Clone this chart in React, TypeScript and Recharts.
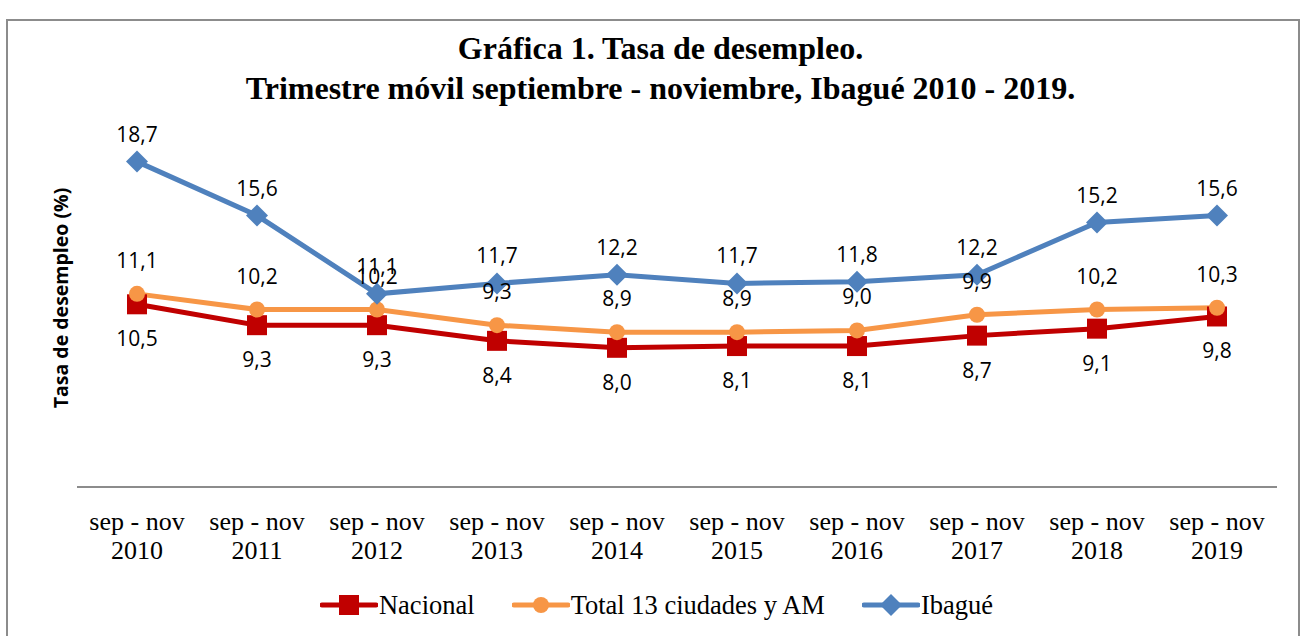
import React from "react";
import { LineChart, Line, XAxis, YAxis, LabelList } from "recharts";

const years = ["2010", "2011", "2012", "2013", "2014", "2015", "2016", "2017", "2018", "2019"];
const nacional = [10.5, 9.3, 9.3, 8.4, 8.0, 8.1, 8.1, 8.7, 9.1, 9.8];
const total13 = [11.1, 10.2, 10.2, 9.3, 8.9, 8.9, 9.0, 9.9, 10.2, 10.3];
const ibague = [18.7, 15.6, 11.1, 11.7, 12.2, 11.7, 11.8, 12.2, 15.2, 15.6];

const RED = "#C00000";
const ORANGE = "#F79646";
const BLUE = "#4F81BD";
const SERIF = "'Liberation Serif', 'Times New Roman', serif";
const SANS = "'Open Sans', 'Noto Sans', sans-serif";

const data = years.map((y, i) => ({
  year: y,
  nacional: nacional[i],
  total: total13[i],
  ibague: ibague[i],
}));

const fmt = (v: any) => Number(v).toFixed(1).replace(".", ",");

const Square = ({ cx, cy }: any) => (
  <rect x={cx - 10} y={cy - 10} width={20} height={20} fill={RED} />
);
const Dot = ({ cx, cy }: any) => <circle cx={cx} cy={cy} r={8} fill={ORANGE} />;
const Diamond = ({ cx, cy }: any) => (
  <path d={`M${cx},${cy - 11} L${cx + 11},${cy} L${cx},${cy + 11} L${cx - 11},${cy} Z`} fill={BLUE} />
);

const CategoryTick = ({ x, y, payload }: any) => (
  <text x={x} y={y} textAnchor="middle" fontFamily={SERIF} fontSize={26} fill="#000">
    <tspan x={x} dy={41}>sep - nov</tspan>
    <tspan x={x} dy={29}>{payload.value}</tspan>
  </text>
);

const legendItems = [
  { name: "Nacional", color: RED, shape: "square" },
  { name: "Total 13 ciudades y AM", color: ORANGE, shape: "circle" },
  { name: "Ibagué", color: BLUE, shape: "diamond" },
];

const ChartLegend = () => (
  <div
    style={{
      position: "absolute",
      left: 0,
      top: 589,
      width: 1309,
      display: "flex",
      justifyContent: "center",
      gap: 37,
      fontFamily: SERIF,
      fontSize: 26.5,
      lineHeight: "32px",
      paddingLeft: 2,
    }}
  >
    {legendItems.map((it) => (
      <div key={it.name} style={{ display: "flex", alignItems: "center" }}>
        <svg width={58} height={24}>
          <line x1={2} y1={12} x2={56} y2={12} stroke={it.color} strokeWidth={5} strokeLinecap="round" />
          {it.shape === "square" && <rect x={19} y={2} width={20} height={20} fill={it.color} />}
          {it.shape === "circle" && <circle cx={29} cy={12} r={8} fill={it.color} />}
          {it.shape === "diamond" && <path d="M29,1 L40,12 L29,23 L18,12 Z" fill={it.color} />}
        </svg>
        <span style={{ marginLeft: 1 }}>{it.name}</span>
      </div>
    ))}
  </div>
);

export default function App() {
  return (
    <div style={{ position: "absolute", left: 0, top: 0, width: 1309, height: 636, background: "#fff", overflow: "hidden" }}>
      <div
        style={{
          position: "absolute",
          left: 6,
          top: 19,
          width: 1294,
          height: 640,
          border: "2px solid #8c8c8c",
          boxSizing: "border-box",
        }}
      />
      <div
        style={{
          position: "absolute",
          left: 0,
          top: 28,
          width: 1309,
          textAlign: "center",
          fontFamily: SERIF,
          fontWeight: "bold",
          fontSize: 32,
          lineHeight: "40px",
          paddingLeft: 6,
        }}
      >
        <div>Gráfica 1. Tasa de desempleo.</div>
        <div>Trimestre móvil septiembre - noviembre, Ibagué 2010 - 2019.</div>
      </div>
      <div
        style={{
          position: "absolute",
          left: 60,
          top: 298,
          transform: "translate(-50%, -50%) rotate(-90deg)",
          fontFamily: SANS,
          fontWeight: "bold",
          fontSize: 19.5,
          whiteSpace: "nowrap",
        }}
      >
        Tasa de desempleo (%)
      </div>
      <LineChart
        width={1309}
        height={636}
        data={data}
        margin={{ top: 139, right: 32, bottom: 119, left: 77 }}
        style={{ position: "absolute", left: 0, top: 0 }}
      >
        <XAxis
          dataKey="year"
          tick={<CategoryTick />}
          tickLine={false}
          tickSize={0}
          height={30}
          axisLine={{ stroke: "#8c8c8c", strokeWidth: 2 }}
          interval={0}
          padding={{ left: 60, right: 60 }}
        />
        <YAxis hide domain={[0, 20]} />
        <Line
          dataKey="nacional"
          stroke={RED}
          strokeWidth={5}
          dot={<Square />}
          activeDot={false}
          isAnimationActive={false}
        >
          <LabelList dataKey="nacional" position="bottom" offset={27} formatter={fmt} fill="#000" fontSize={21} fontFamily={SANS} />
        </Line>
        <Line
          dataKey="total"
          stroke={ORANGE}
          strokeWidth={5}
          dot={<Dot />}
          activeDot={false}
          isAnimationActive={false}
        >
          <LabelList dataKey="total" position="top" offset={26} formatter={fmt} fill="#000" fontSize={21} fontFamily={SANS} />
        </Line>
        <Line
          dataKey="ibague"
          stroke={BLUE}
          strokeWidth={5}
          dot={<Diamond />}
          activeDot={false}
          isAnimationActive={false}
        >
          <LabelList dataKey="ibague" position="top" offset={20} formatter={fmt} fill="#000" fontSize={21} fontFamily={SANS} />
        </Line>
      </LineChart>
      <ChartLegend />
    </div>
  );
}
